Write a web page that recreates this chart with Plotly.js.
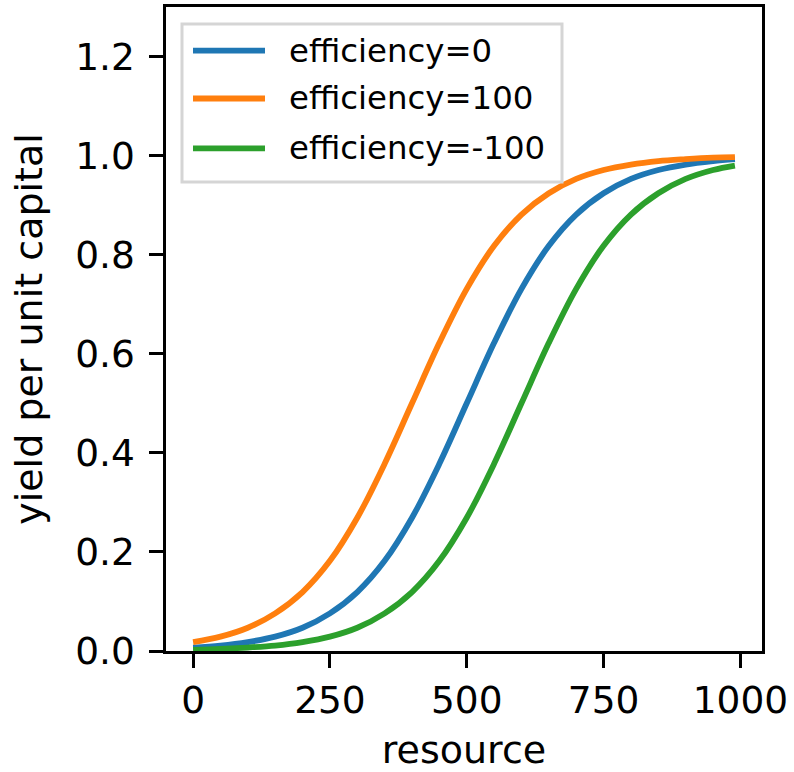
<!DOCTYPE html>
<html>
<head>
<meta charset="utf-8">
<script src="https://cdn.plot.ly/plotly-3.0.1.min.js"></script>
<style>html,body{margin:0;padding:0;background:#fff;}#chart{width:794px;height:772px;}</style>
</head>
<body>
<div id="chart"></div>
<script>
// Data
const resource = [0, 50, 100, 150, 200, 250, 300, 350, 400, 450, 500, 550, 600, 650, 700, 750, 800, 850, 900, 950, 990];
const yieldEff0 = [0.007, 0.011, 0.018, 0.029, 0.047, 0.076, 0.119, 0.182, 0.269, 0.378, 0.500, 0.622, 0.731, 0.818, 0.881, 0.924, 0.953, 0.971, 0.982, 0.989, 0.993];
const yieldEff100 = [0.018, 0.029, 0.047, 0.076, 0.119, 0.182, 0.269, 0.378, 0.500, 0.622, 0.731, 0.818, 0.881, 0.924, 0.953, 0.971, 0.982, 0.989, 0.993, 0.996, 0.997];
const yieldEffM100 = [0.002, 0.004, 0.007, 0.011, 0.018, 0.029, 0.047, 0.076, 0.119, 0.182, 0.269, 0.378, 0.500, 0.622, 0.731, 0.818, 0.881, 0.924, 0.953, 0.971, 0.980];
const seriesNames = ["efficiency=0", "efficiency=100", "efficiency=-100"];
const xTicks = [0, 250, 500, 750, 1000];
const xTickText = ["0", "250", "500", "750", "1000"];
const yTicks = [0, 0.2, 0.4, 0.6, 0.8, 1.0, 1.2];
const yTickText = ["0.0", "0.2", "0.4", "0.6", "0.8", "1.0", "1.2"];

const colors = ["#1f77b4", "#ff7f0e", "#2ca02c"];
const seriesY = [yieldEff0, yieldEff100, yieldEffM100];
const FONT = "DejaVu Sans, Liberation Sans, sans-serif";

const traces = seriesY.map((ys, i) => ({
  x: resource, y: ys, type: "scatter", mode: "lines", name: seriesNames[i],
  line: {color: colors[i], width: 5.8, shape: "spline", smoothing: 1},
  showlegend: false, hoverinfo: "skip"
}));

// plot area in pixels
const L = 166, R = 762, T = 7, B = 651, W = 794, H = 772;
const px = v => (v - L) / (R - L);
const py = v => (B - v) / (B - T);

const shapes = [];
const annotations = [];
// legend frame
shapes.push({type: "rect", xref: "paper", yref: "paper", x0: px(182), x1: px(562), y0: py(182), y1: py(24),
  line: {color: "#d5d5d5", width: 3}, fillcolor: "rgba(255,255,255,0.8)", layer: "above"});
const rowY = [50.7, 98.5, 148.3];
seriesNames.forEach((n, i) => {
  shapes.push({type: "line", xref: "paper", yref: "paper", x0: px(193), x1: px(265), y0: py(rowY[i]), y1: py(rowY[i]),
    line: {color: colors[i], width: 5.8}, layer: "above"});
  annotations.push({xref: "paper", yref: "paper", x: px(287), y: py(rowY[i]), xanchor: "left", yanchor: "middle",
    text: n, showarrow: false, font: {family: FONT, size: 32.4, color: "#000"}});
});

const axisCommon = {
  showgrid: false, zeroline: false, showline: true, mirror: true, linecolor: "#000", linewidth: 3,
  ticks: "outside", ticklen: 13.6, tickwidth: 3, tickcolor: "#000",
  tickfont: {family: FONT, size: 37.5, color: "#000"}, automargin: false
};

const layout = {
  width: W, height: H,
  margin: {l: L, r: W - R, t: T, b: H - B, pad: 0},
  paper_bgcolor: "#fff", plot_bgcolor: "#fff",
  font: {family: FONT, color: "#000"},
  xaxis: Object.assign({}, axisCommon, {
    range: [-49.5, 1039.5], tickmode: "array", tickvals: xTicks, ticktext: xTickText,
    ticklabelstandoff: 0,
    title: {text: "resource", font: {family: FONT, size: 38, color: "#000"}, standoff: 16}
  }),
  yaxis: Object.assign({}, axisCommon, {
    range: [0, 1.3], tickmode: "array", tickvals: yTicks, ticktext: yTickText,
    ticklabelstandoff: 7,
    title: {text: "yield per unit capital", font: {family: FONT, size: 38, color: "#000"}, standoff: 21}
  }),
  shapes: shapes, annotations: annotations, showlegend: false
};

Plotly.newPlot("chart", traces, layout, {displayModeBar: false, staticPlot: true});
</script>
</body>
</html>
